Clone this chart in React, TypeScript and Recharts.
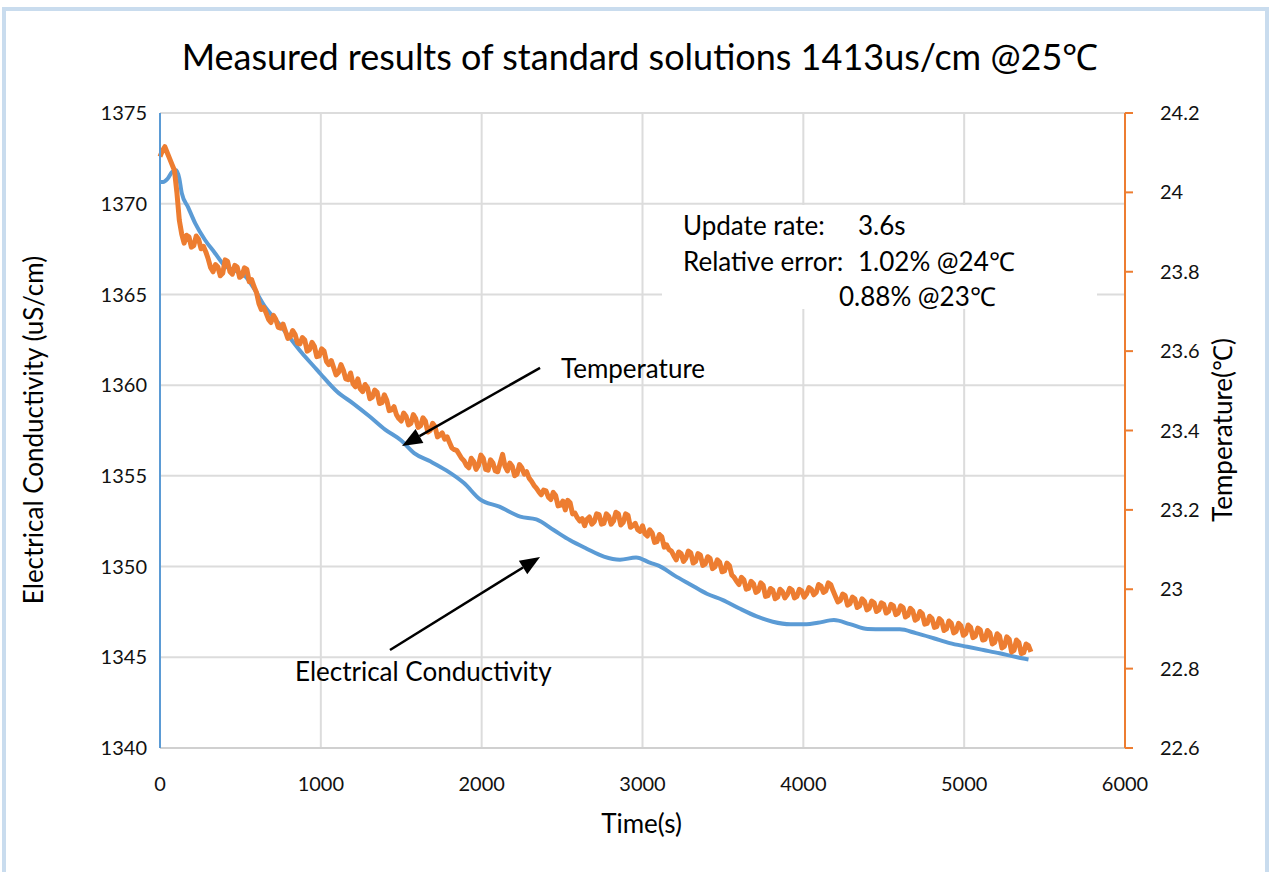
import React from 'react'
import { LineChart, Line, XAxis, YAxis, CartesianGrid, ReferenceLine } from 'recharts'

// Electrical conductivity (uS/cm), smooth trace
const ecTimes = [
    0, 20, 45, 75, 100, 120, 135, 175, 220, 280, 340, 400, 470, 530, 590, 650, 720, 800, 880, 960,
    1000, 1100, 1200, 1300, 1400, 1500, 1580, 1680, 1780, 1890, 1990, 2110, 2240, 2340, 2450, 2550,
    2650, 2760, 2860, 2960, 3050, 3100, 3200, 3300, 3400, 3500, 3600, 3710, 3810, 3920, 4020, 4090,
    4190, 4290, 4400, 4500, 4600, 4700, 4810, 4910, 5020, 5120, 5220, 5330, 5400,
]
const ecValues = [
    1371.2, 1371.2, 1371.35, 1371.75, 1371.85, 1371.4, 1370.6, 1369.8, 1368.9, 1368.0, 1367.3, 1366.6,
    1366.3, 1366.0, 1365.25, 1364.35, 1363.6, 1362.7, 1361.8, 1361.0, 1360.6, 1359.65, 1359.0, 1358.3,
    1357.55, 1356.95, 1356.25, 1355.8, 1355.3, 1354.6, 1353.7, 1353.3, 1352.75, 1352.6, 1352.0, 1351.45,
    1351.0, 1350.55, 1350.38, 1350.5, 1350.2, 1350.05, 1349.5, 1349.0, 1348.5, 1348.15, 1347.7, 1347.25,
    1346.96, 1346.82, 1346.82, 1346.9, 1347.05, 1346.83, 1346.56, 1346.54, 1346.54, 1346.33, 1346.05,
    1345.78, 1345.58, 1345.4, 1345.22, 1345.0, 1344.88,
]

// Temperature (°C), one reading every 15 s, noise
const TEMP_STEP = 15
const tempValues = [
    24.09, 24.105, 24.115, 24.1, 24.085, 24.07, 24.055, 24.0, 23.93, 23.895, 23.872, 23.892, 23.888, 23.862, 23.866, 23.89, 23.882, 23.858, 23.864, 23.85,
    23.832, 23.81, 23.8, 23.818, 23.812, 23.79, 23.796, 23.83, 23.826, 23.8, 23.794, 23.816, 23.812, 23.786, 23.79, 23.81, 23.806, 23.775, 23.78, 23.762,
    23.748, 23.72, 23.705, 23.71, 23.696, 23.68, 23.672, 23.69, 23.68, 23.66, 23.658, 23.668, 23.65, 23.632, 23.636, 23.652, 23.642, 23.62, 23.618, 23.634,
    23.628, 23.6, 23.604, 23.622, 23.612, 23.586, 23.588, 23.606, 23.6, 23.574, 23.566, 23.576, 23.558, 23.54, 23.546, 23.566, 23.552, 23.53, 23.528, 23.545,
    23.518, 23.51, 23.53, 23.505, 23.498, 23.516, 23.508, 23.48, 23.484, 23.502, 23.496, 23.468, 23.47, 23.49, 23.476, 23.45, 23.452, 23.46, 23.44, 23.43,
    23.424, 23.444, 23.436, 23.414, 23.418, 23.44, 23.43, 23.408, 23.412, 23.432, 23.424, 23.396, 23.4, 23.418, 23.41, 23.384, 23.388, 23.394, 23.378, 23.384,
    23.37, 23.356, 23.352, 23.35, 23.34, 23.33, 23.324, 23.312, 23.306, 23.33, 23.322, 23.302, 23.312, 23.338, 23.33, 23.302, 23.3, 23.326, 23.318, 23.298,
    23.296, 23.318, 23.34, 23.31, 23.298, 23.318, 23.31, 23.286, 23.29, 23.314, 23.306, 23.29, 23.296, 23.28, 23.272, 23.262, 23.255, 23.246, 23.238, 23.25,
    23.248, 23.232, 23.226, 23.244, 23.236, 23.21, 23.212, 23.222, 23.2, 23.224, 23.218, 23.19, 23.192, 23.18, 23.172, 23.178, 23.16, 23.176, 23.182, 23.164,
    23.17, 23.19, 23.188, 23.164, 23.166, 23.19, 23.184, 23.164, 23.172, 23.194, 23.19, 23.162, 23.168, 23.19, 23.186, 23.156, 23.16, 23.166, 23.15, 23.146,
    23.16, 23.14, 23.134, 23.15, 23.142, 23.118, 23.12, 23.138, 23.132, 23.106, 23.112, 23.1, 23.096, 23.084, 23.074, 23.094, 23.09, 23.07, 23.078, 23.096,
    23.092, 23.066, 23.07, 23.09, 23.086, 23.06, 23.064, 23.082, 23.078, 23.052, 23.056, 23.074, 23.068, 23.044, 23.046, 23.066, 23.06, 23.036, 23.03, 23.02,
    23.012, 23.03, 23.024, 23.0, 23.002, 23.02, 23.014, 22.992, 22.996, 23.016, 23.01, 22.982, 22.984, 23.002, 22.998, 22.976, 22.98, 23.0, 22.994, 22.978,
    22.986, 23.002, 22.998, 22.978, 22.982, 23.0, 22.996, 22.98, 22.988, 23.004, 23.0, 22.986, 22.992, 23.012, 23.008, 22.992, 22.996, 23.016, 23.012, 22.996,
    22.982, 22.968, 22.972, 22.988, 22.984, 22.96, 22.964, 22.98, 22.976, 22.954, 22.958, 22.976, 22.97, 22.948, 22.952, 22.97, 22.966, 22.944, 22.948, 22.966,
    22.962, 22.94, 22.944, 22.962, 22.958, 22.936, 22.94, 22.958, 22.954, 22.93, 22.934, 22.952, 22.946, 22.922, 22.926, 22.944, 22.938, 22.912, 22.914, 22.932,
    22.926, 22.904, 22.906, 22.926, 22.92, 22.896, 22.9, 22.92, 22.914, 22.89, 22.894, 22.914, 22.908, 22.884, 22.888, 22.91, 22.904, 22.878, 22.882, 22.902,
    22.898, 22.872, 22.874, 22.896, 22.89, 22.862, 22.866, 22.888, 22.882, 22.852, 22.856, 22.88, 22.874, 22.842, 22.846, 22.872, 22.866, 22.838, 22.84, 22.862,
    22.858, 22.842,
]

const timeTicks = [0, 1000, 2000, 3000, 4000, 5000, 6000]
const ecTicks = [1340, 1345, 1350, 1355, 1360, 1365, 1370, 1375]
const tempTicks = [22.6, 22.8, 23.0, 23.2, 23.4, 23.6, 23.8, 24.0, 24.2]

const ecData = ecTimes.map((t, i) => ({ t, v: ecValues[i] }))
const tempData = tempValues.map((v, i) => ({ t: i * TEMP_STEP, v }))

const BLUE = '#5b9bd5'
const ORANGE = '#ed7d31'
const FONT = 'Lato, "Open Sans", sans-serif'

const Arrow = (props: any) => {
    const { x1, y1, x2, y2 } = props
    const ang = Math.atan2(y2 - y1, x2 - x1)
    const len = 20
    const half = 8
    const bx = x2 - len * Math.cos(ang)
    const by = y2 - len * Math.sin(ang)
    const px = -Math.sin(ang) * half
    const py = Math.cos(ang) * half
    return (
        <g>
            <line x1={x1} y1={y1} x2={bx} y2={by} stroke="#000" strokeWidth={2.5} />
            <polygon points={`${x2},${y2} ${bx + px},${by + py} ${bx - px},${by - py}`} fill="#000" />
        </g>
    )
}

const txt: React.CSSProperties = { position: 'absolute', whiteSpace: 'nowrap', color: '#000', fontFamily: FONT }
const note: React.CSSProperties = { ...txt, fontSize: 26, lineHeight: '30px' }

export default function App() {
    return (
        <div style={{ position: 'relative', width: 1271, height: 872, background: '#fff', overflow: 'hidden' }}>
            <style>{'body{margin:0}'}</style>
            <div style={{ position: 'absolute', left: 2, top: 7, width: 1259, height: 900, border: '4px solid #c9dcee' }} />
            <LineChart
                width={1271}
                height={872}
                margin={{ top: 113, right: 66, bottom: 74, left: 100 }}
                style={{ position: 'absolute', left: 0, top: 0 }}
            >
                <CartesianGrid yAxisId="ec" stroke="#dcdcdc" strokeWidth={2} />
                <XAxis
                    dataKey="t"
                    type="number"
                    domain={[0, 6000]}
                    ticks={timeTicks}
                    height={50}
                    axisLine={{ stroke: '#d0d0d0', strokeWidth: 2 }}
                    tickLine={false}
                    tickSize={0}
                    tickMargin={29}
                    tick={{ fill: '#111', fontSize: 20, fontFamily: FONT }}
                />
                <YAxis
                    yAxisId="ec"
                    orientation="left"
                    domain={[1340, 1375]}
                    ticks={ecTicks}
                    width={60}
                    axisLine={{ stroke: BLUE, strokeWidth: 2 }}
                    tickLine={false}
                    tickSize={0}
                    tickMargin={13}
                    tick={{ fill: '#111', fontSize: 20, fontFamily: FONT }}
                />
                <YAxis
                    yAxisId="temp"
                    orientation="right"
                    domain={[22.6, 24.2]}
                    ticks={tempTicks}
                    width={80}
                    axisLine={{ stroke: ORANGE, strokeWidth: 2 }}
                    tickLine={{ stroke: ORANGE, strokeWidth: 2 }}
                    tickSize={8}
                    tickMargin={12}
                    tickFormatter={(v: number) => String(Number(v.toFixed(1)))}
                    tick={{ fill: '#111', fontSize: 20, fontFamily: FONT, textAnchor: 'start', dx: 15 }}
                />
                <Line
                    data={ecData}
                    dataKey="v"
                    yAxisId="ec"
                    type="monotone"
                    stroke={BLUE}
                    strokeWidth={4}
                    dot={false}
                    isAnimationActive={false}
                />
                <Line
                    data={tempData}
                    dataKey="v"
                    yAxisId="temp"
                    type="linear"
                    stroke={ORANGE}
                    strokeWidth={5}
                    strokeLinejoin="round"
                    dot={false}
                    isAnimationActive={false}
                />
                <ReferenceLine
                    yAxisId="ec"
                    segment={[{ x: 2363, y: 1360.95 }, { x: 1505, y: 1356.65 }]}
                    shape={(p: any) => <Arrow {...p} />}
                />
                <ReferenceLine
                    yAxisId="ec"
                    segment={[{ x: 1430, y: 1345.4 }, { x: 2363, y: 1350.53 }]}
                    shape={(p: any) => <Arrow {...p} />}
                />
            </LineChart>

            <div style={{ ...txt, left: 0, width: 1280, top: 34, textAlign: 'center', fontSize: 36, lineHeight: '44px' }}>
                Measured results of standard solutions 1413us/cm @25℃
            </div>
            <div style={{ ...txt, left: 33 - 220, top: 430 - 16, width: 440, height: 32, lineHeight: '32px', textAlign: 'center', fontSize: 26, transform: 'rotate(-90deg)' }}>
                Electrical Conductivity (uS/cm)
            </div>
            <div style={{ ...txt, left: 1222 - 150, top: 430 - 16, width: 300, height: 32, lineHeight: '32px', textAlign: 'center', fontSize: 26, transform: 'rotate(-90deg)' }}>
                Temperature(℃)
            </div>
            <div style={{ ...txt, left: 0, width: 1283, top: 807, textAlign: 'center', fontSize: 26, lineHeight: '32px' }}>
                Time(s)
            </div>

            <div style={{ position: 'absolute', left: 662, top: 205, width: 435, height: 104, background: '#fff' }} />
            <div style={{ ...note, left: 683, top: 210 }}>Update rate:</div>
            <div style={{ ...note, left: 858, top: 210 }}>3.6s</div>
            <div style={{ ...note, left: 683, top: 246 }}>Relative error:</div>
            <div style={{ ...note, left: 858, top: 246 }}>1.02% @24℃</div>
            <div style={{ ...note, left: 839, top: 281 }}>0.88% @23℃</div>

            <div style={{ ...note, left: 561, top: 353 }}>Temperature</div>
            <div style={{ ...note, left: 295, top: 656 }}>Electrical Conductivity</div>
        </div>
    )
}
